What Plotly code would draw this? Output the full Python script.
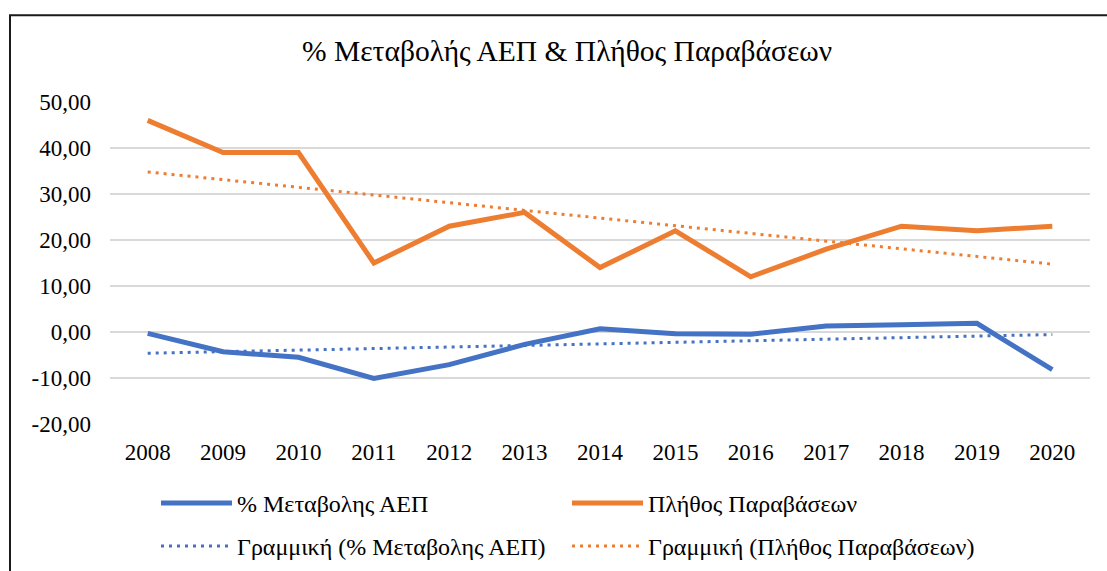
import numpy as np
import plotly.graph_objects as go

# --- data -------------------------------------------------------------
years = ["2008", "2009", "2010", "2011", "2012", "2013", "2014",
         "2015", "2016", "2017", "2018", "2019", "2020"]
gdp_change = [-0.3, -4.3, -5.5, -10.1, -7.1, -2.7, 0.7,
              -0.4, -0.5, 1.3, 1.6, 1.9, -8.2]
violations = [46, 39, 39, 15, 23, 26, 14, 22, 12, 18, 23, 22, 23]

y_tick_vals = [-20, -10, 0, 10, 20, 30, 40, 50]
y_tick_text = ["-20,00", "-10,00", "0,00", "10,00", "20,00", "30,00", "40,00", "50,00"]

title_text = "% Μεταβολής ΑΕΠ & Πλήθος Παραβάσεων"
name_gdp = "% Μεταβολης ΑΕΠ"
name_viol = "Πλήθος Παραβάσεων"
name_gdp_trend = "Γραμμική (% Μεταβολης ΑΕΠ)"
name_viol_trend = "Γραμμική (Πλήθος Παραβάσεων)"

# --- styling ----------------------------------------------------------
W, H = 1107, 571
L, R, T, B = 110, 17, 101.7, 147.3
BLUE = "#4472C4"
ORANGE = "#ED7D31"
GRID = "#D9D9D9"
FONT = "'Liberation Serif', 'Times New Roman', 'DejaVu Serif', serif"
DOT = "3px,5px"

plot_w = W - L - R
plot_h = H - T - B


def px_x(px):
    return (px - L) / plot_w


def px_y(py):
    return (H - B - py) / plot_h


def linear_trend(values):
    idx = np.arange(len(values))
    slope, intercept = np.polyfit(idx, values, 1)
    return (intercept + slope * idx).tolist()


fig = go.Figure()
fig.add_trace(go.Scatter(x=years, y=gdp_change, name=name_gdp, mode="lines",
                         line=dict(color=BLUE, width=5), legend="legend"))
fig.add_trace(go.Scatter(x=years, y=violations, name=name_viol, mode="lines",
                         line=dict(color=ORANGE, width=5), legend="legend"))
fig.add_trace(go.Scatter(x=years, y=linear_trend(gdp_change), name=name_gdp_trend,
                         mode="lines", line=dict(color=BLUE, width=3, dash=DOT),
                         legend="legend2"))
fig.add_trace(go.Scatter(x=years, y=linear_trend(violations), name=name_viol_trend,
                         mode="lines", line=dict(color=ORANGE, width=3, dash=DOT),
                         legend="legend2"))

# each legend entry spans ~406 px (symbol + gap + text)
legend_common = dict(
    orientation="h", xanchor="left", yanchor="middle",
    x=px_x(156), entrywidth=325, entrywidthmode="pixels", itemwidth=71,
    font=dict(family=FONT, size=24, color="#000000"),
    bgcolor="rgba(0,0,0,0)", borderwidth=0, traceorder="normal",
)

fig.update_layout(
    width=W, height=H,
    margin=dict(l=L, r=R, t=T, b=B, pad=0, autoexpand=False),
    paper_bgcolor="white", plot_bgcolor="white",
    font=dict(family=FONT, color="#000000"),
    showlegend=True,
    legend=dict(legend_common, y=px_y(503)),
    legend2=dict(legend_common, y=px_y(546)),
    xaxis=dict(type="category", range=[-0.5, len(years) - 0.5], showgrid=False,
               zeroline=False, showline=False, ticks="",
               tickfont=dict(family=FONT, size=23, color="#000000"),
               ticklabelstandoff=12),
    yaxis=dict(range=[-20, 50], tickvals=y_tick_vals, ticktext=y_tick_text,
               showgrid=True, gridcolor=GRID, gridwidth=1.5, zeroline=False,
               showline=False, ticks="",
               tickfont=dict(family=FONT, size=23, color="#000000"),
               ticklabelstandoff=18),
    annotations=[dict(text=title_text, xref="paper", yref="paper",
                      x=px_x(567), y=px_y(51), xanchor="center", yanchor="middle",
                      showarrow=False,
                      font=dict(family=FONT, size=29.5, color="#000000"))],
    shapes=[dict(type="rect", xref="paper", yref="paper",
                 x0=px_x(10), y0=px_y(620), x1=px_x(1130), y1=px_y(15),
                 line=dict(color="#1a1a1a", width=2), layer="below")],
)

fig.write_html("out.html")
